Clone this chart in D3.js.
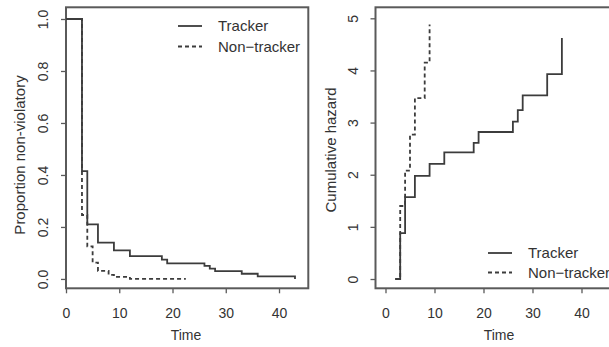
<!DOCTYPE html>
<html>
<head>
<meta charset="utf-8">
<script src="https://cdn.jsdelivr.net/npm/d3@7"></script>
<style>
  html, body { margin: 0; padding: 0; background: #fff; }
  svg { display: block; font-family: "Liberation Sans", Arial, Helvetica, sans-serif; }
</style>
</head>
<body>
<svg id="chart" width="609" height="347"></svg>
<script>
// ---- Data ----
// Kaplan-Meier: proportion non-violatory
const kmTrackerTime    = [0, 3, 4, 6, 9, 12, 18, 19, 26, 27, 28, 33, 36, 43];
const kmTrackerSurv    = [1, 0.415, 0.21, 0.14, 0.11, 0.088, 0.074, 0.06, 0.05, 0.04, 0.03, 0.02, 0.01, 0];
const kmNonTrackerTime = [0, 3, 4, 5, 6, 8, 9, 12, 22.5];
const kmNonTrackerSurv = [1, 0.246, 0.125, 0.063, 0.031, 0.0158, 0.0076, 0, 0];
// Cumulative hazard
const chTrackerTime    = [2, 3, 4, 6, 9, 12, 18, 19, 26, 27, 28, 33, 36];
const chTrackerHaz     = [0, 0.88, 1.57, 1.98, 2.21, 2.43, 2.61, 2.82, 3.02, 3.24, 3.52, 3.93, 4.62];
const chNonTrackerTime = [2, 3, 4, 5, 6, 8, 9];
const chNonTrackerHaz  = [0, 1.40, 2.08, 2.77, 3.47, 4.15, 4.88];
// Ticks and labels
const leftXTicks  = [0, 10, 20, 30, 40];
const leftYTicks  = [0, 0.2, 0.4, 0.6, 0.8, 1.0];
const rightXTicks = [0, 10, 20, 30, 40];
const rightYTicks = [0, 1, 2, 3, 4, 5];
const seriesNames = ["Tracker", "Non\u2212tracker"];
const xTitle = "Time";
const leftYTitle = "Proportion non-violatory";
const rightYTitle = "Cumulative hazard";

// ---- Layout ----
const svg = d3.select("#chart");
const ink = "#3c3c3c", boxCol = "#5a5a5a", textCol = "#333";
const tickFont = 14, titleFont = 15;

function panel(cfg) {
  const x = d3.scaleLinear().domain(cfg.xDomain).range([cfg.left, cfg.right]);
  const y = d3.scaleLinear().domain(cfg.yDomain).range([cfg.bottom, cfg.top]);
  const g = svg.append("g");

  // x axis ticks
  const xa = g.append("g").attr("transform", `translate(0,${cfg.bottom})`)
    .call(d3.axisBottom(x).tickValues(cfg.xTicks).tickSize(5).tickPadding(14.5).tickFormat(d3.format("d")));
  xa.select(".domain").remove();
  xa.selectAll("line").attr("stroke", boxCol).attr("stroke-width", 1.3);
  xa.selectAll("text").attr("fill", textCol).style("font-size", tickFont + "px").style("font-family", "inherit");

  // y axis ticks with rotated labels
  const ya = g.append("g").attr("transform", `translate(${cfg.left},0)`)
    .call(d3.axisLeft(y).tickValues(cfg.yTicks).tickSize(5).tickFormat(cfg.yFormat));
  ya.select(".domain").remove();
  ya.selectAll("line").attr("stroke", boxCol).attr("stroke-width", 1.3);
  ya.selectAll("text")
    .attr("x", null).attr("dy", null)
    .attr("transform", "translate(-18,0) rotate(-90)")
    .attr("text-anchor", "middle")
    .attr("fill", textCol).style("font-size", tickFont + "px").style("font-family", "inherit");

  // box
  g.append("rect")
    .attr("x", cfg.left).attr("y", cfg.top)
    .attr("width", cfg.right - cfg.left).attr("height", cfg.bottom - cfg.top)
    .attr("fill", "none").attr("stroke", boxCol).attr("stroke-width", 2);

  // curves
  const line = d3.line().x(d => x(d[0])).y(d => y(d[1])).curve(d3.curveStepAfter);
  cfg.series.forEach(s => {
    g.append("path")
      .datum(d3.zip(s.t, s.v))
      .attr("d", line)
      .attr("fill", "none")
      .attr("stroke", ink)
      .attr("stroke-width", 1.8)
      .attr("stroke-dasharray", s.dash || null);
  });

  // titles
  g.append("text").attr("x", cfg.xTitleX).attr("y", 340)
    .attr("text-anchor", "middle").attr("fill", textCol)
    .style("font-size", "14px").text(xTitle);
  g.append("text")
    .attr("transform", `translate(${cfg.yTitleX},${cfg.yTitleY}) rotate(-90)`)
    .attr("text-anchor", "middle").attr("fill", textCol)
    .style("font-size", titleFont + "px").text(cfg.yTitle);

  // legend
  const lg = g.append("g");
  seriesNames.forEach((name, i) => {
    const ly = cfg.legY + i * cfg.legStep;
    lg.append("line")
      .attr("x1", cfg.legX).attr("x2", cfg.legX + 24)
      .attr("y1", ly).attr("y2", ly)
      .attr("stroke", ink).attr("stroke-width", 1.8)
      .attr("stroke-dasharray", i === 1 ? "4,3" : null);
    lg.append("text")
      .attr("x", cfg.legX + 40).attr("y", ly + 5)
      .attr("fill", textCol).style("font-size", "15px")
      .text(name);
  });
}

panel({
  left: 66, right: 308.3, top: 7.3, bottom: 288.3,
  xDomain: [0, 45.5], yDomain: [-0.036, 1.045],
  xTicks: leftXTicks, yTicks: leftYTicks, yFormat: d3.format(".1f"),
  series: [
    { t: kmTrackerTime, v: kmTrackerSurv },
    { t: kmNonTrackerTime, v: kmNonTrackerSurv, dash: "4,3" }
  ],
  xTitleX: 186, yTitleX: 25, yTitleY: 155, yTitle: leftYTitle,
  legX: 178, legY: 26, legStep: 20.5
});

panel({
  left: 375.5, right: 630, top: 7.3, bottom: 288.3,
  xDomain: [-2.04, 49.9], yDomain: [-0.178, 5.211],
  xTicks: rightXTicks, yTicks: rightYTicks, yFormat: d3.format("d"),
  series: [
    { t: chTrackerTime, v: chTrackerHaz },
    { t: chNonTrackerTime, v: chNonTrackerHaz, dash: "4,3" }
  ],
  xTitleX: 499, yTitleX: 336, yTitleY: 150, yTitle: rightYTitle,
  legX: 488, legY: 253, legStep: 19.5
});
</script>
</body>
</html>
